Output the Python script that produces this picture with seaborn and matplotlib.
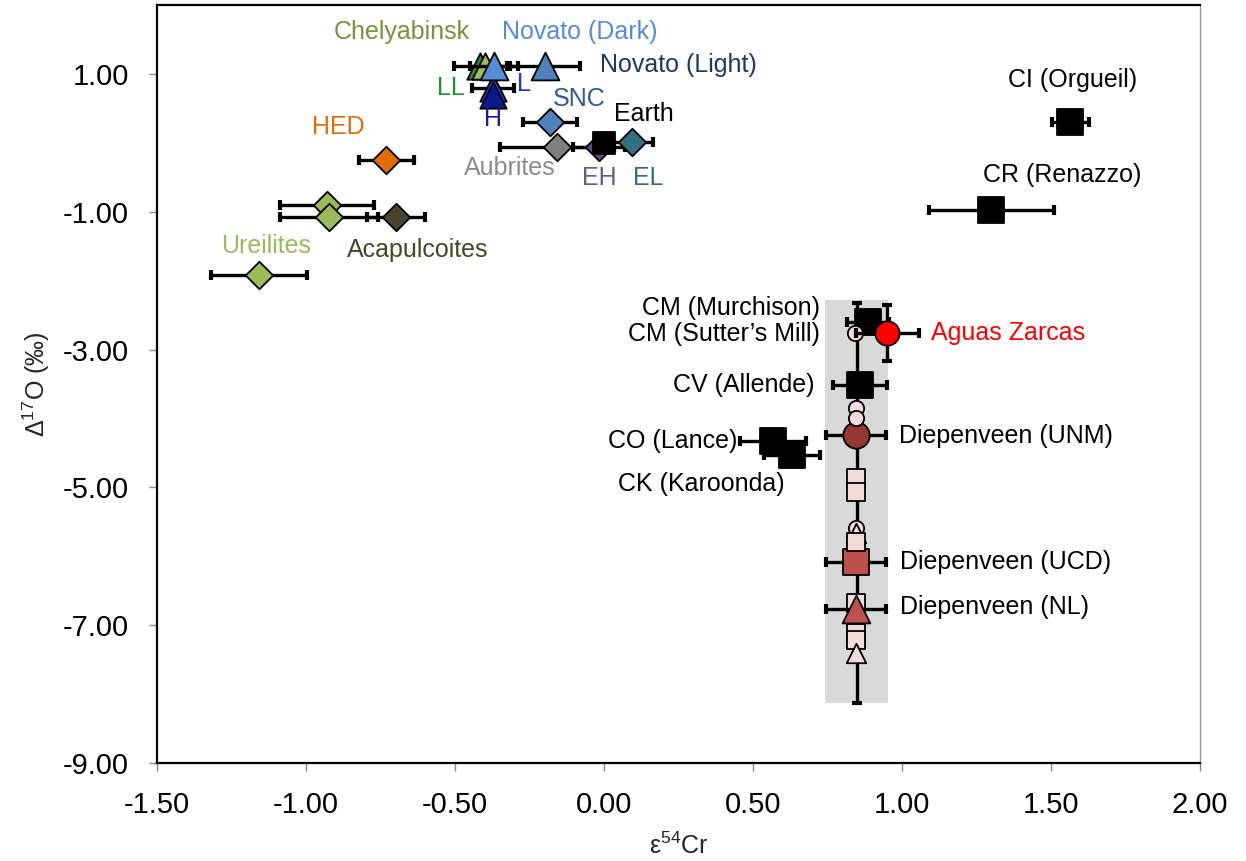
import matplotlib
matplotlib.use("Agg")
import matplotlib.pyplot as plt
import seaborn as sns
import pandas as pd

# ---- meteorite group means: eps54Cr, D17O and their uncertainties ----
sample = ["Ureilites a", "Ureilites b", "Acapulcoites", "Ureilites c", "HED",
          "Aubrites", "EH", "Earth", "EL", "SNC", "L", "H", "LL",
          "Chelyabinsk", "Novato (Dark)", "Novato (Light)",
          "CI (Orgueil)", "CR (Renazzo)", "CO (Lance)", "CK (Karoonda)"]
eps54_cr = [-0.93, -0.923, -0.698, -1.158, -0.73,
            -0.158, -0.017, 0.0, 0.094, -0.181, -0.372, -0.372, -0.415,
            -0.40, -0.37, -0.198,
            1.564, 1.30, 0.567, 0.631]
d17o = [-0.90, -1.075, -1.07, -1.92, -0.25,
        -0.06, -0.06, 0.0, 0.01, 0.30, 0.80, 0.70, 1.12,
        1.12, 1.12, 1.12,
        0.30, -0.97, -4.33, -4.53]
eps54_cr_err = [0.158, 0.165, 0.097, 0.16, 0.093,
                0.19, 0.087, 0.0, 0.07, 0.092, 0.07, 0.0, 0.09,
                0.0, 0.08, 0.117,
                0.062, 0.21, 0.11, 0.094]

# ---- carbonaceous chondrites near the Diepenveen range ----
cc_sample = ["CM (Murchison)", "CV (Allende)", "Diepenveen (UNM)",
             "Diepenveen (UCD)", "Diepenveen (NL)", "Aguas Zarcas"]
cc_eps54_cr = [0.886, 0.859, 0.845, 0.845, 0.845, 0.95]
cc_d17o = [-2.60, -3.51, -4.24, -6.08, -6.77, -2.76]
cc_eps54_cr_err = [0.07, 0.092, 0.10, 0.10, 0.10, 0.106]
cc_d17o_err = [0.0, 0.0, 0.0, 0.0, 0.0, 0.41]

# ---- individual Diepenveen / CM fragments ----
clast_eps54_cr = [0.842, 0.845, 0.845, 0.845, 0.845, 0.845, 0.845, 0.845,
                  0.845, 0.845, 0.845, 0.845]
clast_d17o = [-2.76, -3.85, -4.00, -4.86, -5.07, -5.59, -5.66, -5.79,
              -6.68, -7.11, -7.21, -7.40]
clast_kind = ["o", "o", "o", "s", "s", "o", "^", "s", "s", "s", "s", "^"]

# overall Diepenveen spread (shaded band and bar)
band_eps54_cr = [0.742, 0.953]
band_d17o = [-8.13, -2.28]
range_eps54_cr = 0.85
range_d17o = [-8.13, -2.32]

# ---- marker styles ----
style = {
    "Ureilites a": ("D", "#9bbb59", 14), "Ureilites b": ("D", "#9bbb59", 14),
    "Ureilites c": ("D", "#9bbb59", 14), "Acapulcoites": ("D", "#4a452a", 14),
    "HED": ("D", "#e36c09", 14), "Aubrites": ("D", "#7f7f7f", 14),
    "EH": ("D", "#604a7b", 14), "Earth": ("s", "black", 16),
    "EL": ("D", "#31707f", 14), "SNC": ("D", "#4f81bd", 14),
    "L": ("^", "#1f3fe0", 19), "H": ("^", "#0a1a8c", 19),
    "LL": ("^", "#2e8b2e", 19), "Chelyabinsk": ("^", "#9bbb59", 19),
    "Novato (Dark)": ("^", "#558ed5", 20), "Novato (Light)": ("^", "#4f81bd", 20),
    "CI (Orgueil)": ("s", "black", 19), "CR (Renazzo)": ("s", "black", 19),
    "CO (Lance)": ("s", "black", 19), "CK (Karoonda)": ("s", "black", 19),
    "CM (Murchison)": ("s", "black", 19), "CV (Allende)": ("s", "black", 19),
    "Diepenveen (UNM)": ("o", "#953735", 19), "Diepenveen (UCD)": ("s", "#c0504d", 19),
    "Diepenveen (NL)": ("^", "#c0504d", 20), "Aguas Zarcas": ("o", "#ff0000", 17.5),
}
clast_color = "#f2dcdb"
clast_size = {"o": 11, "s": 13, "^": 14}

# ---- text labels: (text, x, y, colour, ha) ----
labels = [
    ("Chelyabinsk", -0.678, 1.61, "#77933c", "center"),
    ("Novato (Dark)", -0.08, 1.61, "#558ed5", "center"),
    ("Novato (Light)", -0.013, 1.13, "#1f3864", "left"),
    ("LL", -0.513, 0.80, "#22922a", "center"),
    ("L", -0.268, 0.855, "#2233dd", "center"),
    ("H", -0.372, 0.35, "#1c1c9a", "center"),
    ("SNC", -0.084, 0.637, "#2f5a96", "center"),
    ("Earth", 0.134, 0.42, "black", "center"),
    ("Aubrites", -0.315, -0.36, "#8c8c8c", "center"),
    ("EH", -0.017, -0.51, "#6b5a8c", "center"),
    ("EL", 0.148, -0.51, "#33707d", "center"),
    ("HED", -0.893, 0.23, "#e36c09", "center"),
    ("Ureilites", -1.134, -1.50, "#9bbb59", "center"),
    ("Acapulcoites", -0.624, -1.555, "#4a452a", "center"),
    ("CI (Orgueil)", 1.574, 0.91, "black", "center"),
    ("CR (Renazzo)", 1.537, -0.466, "black", "center"),
    ("CM (Murchison)", 0.725, -2.40, "black", "right"),
    ("CM (Sutter\u2019s Mill)", 0.725, -2.77, "black", "right"),
    ("Aguas Zarcas", 1.097, -2.76, "#ff0000", "left"),
    ("CV (Allende)", 0.708, -3.51, "black", "right"),
    ("CO (Lance)", 0.446, -4.33, "black", "right"),
    ("CK (Karoonda)", 0.607, -4.95, "black", "right"),
    ("Diepenveen (UNM)", 0.99, -4.25, "black", "left"),
    ("Diepenveen (UCD)", 0.993, -6.08, "black", "left"),
    ("Diepenveen (NL)", 0.993, -6.74, "black", "left"),
]

sns.set_theme(style="white")
plt.rcParams["font.family"] = ["Liberation Sans", "DejaVu Sans"]
plt.rcParams["mathtext.fontset"] = "custom"
plt.rcParams["mathtext.rm"] = "Liberation Sans"
plt.rcParams["mathtext.default"] = "regular"
plt.rcParams["axes.unicode_minus"] = False

fig = plt.figure(figsize=(12.46, 8.61), dpi=100)
ax = fig.add_axes([157 / 1246, 98 / 861, 1043 / 1246, 758 / 861])

EB = dict(fmt="none", ecolor="black", elinewidth=2.4, capsize=3.6, capthick=3)

# shaded Diepenveen range and its bar
ax.fill_between(band_eps54_cr, band_d17o[0], band_d17o[1], color="#d9d9d9",
                linewidth=0, zorder=0.5)
ax.errorbar([range_eps54_cr], [(range_d17o[0] + range_d17o[1]) / 2],
            yerr=[(range_d17o[1] - range_d17o[0]) / 2], zorder=1, **EB)


def draw_point(x, y, xe, ye, marker, face, size, z):
    if xe or ye:
        ax.errorbar([x], [y], xerr=[xe] if xe else None,
                    yerr=[ye] if ye else None, zorder=z, **EB)
    sns.scatterplot(x=[x], y=[y], marker=marker, s=size ** 2, color=face,
                    edgecolor="black", linewidth=1.3, zorder=z + 0.1,
                    legend=False, ax=ax)


z = 2
df = pd.DataFrame({"sample": sample, "x": eps54_cr, "y": d17o, "xe": eps54_cr_err})
for row in df.itertuples():
    m, c, s = style[row.sample]
    draw_point(row.x, row.y, row.xe, 0, m, c, s, z)
    z += 1

# fragments, then labelled carbonaceous chondrites on top
cc = pd.DataFrame({"sample": cc_sample, "x": cc_eps54_cr, "y": cc_d17o,
                   "xe": cc_eps54_cr_err, "ye": cc_d17o_err})
for i, row in enumerate(cc.itertuples()):
    m, c, s = style[row.sample]
    draw_point(row.x, row.y, row.xe, row.ye, m, c, s, z + (20 if row.sample == "Aguas Zarcas" else 0))
    z += 1
for x, y, k in zip(clast_eps54_cr, clast_d17o, clast_kind):
    draw_point(x, y, 0, 0, k, clast_color, clast_size[k], z - 3)

for text, x, y, col, ha in labels:
    ax.text(x, y, text, color=col, ha=ha, va="center", fontsize=18, zorder=60)

ax.set_xlim(-1.5, 2.0)
ax.set_ylim(-9.0, 2.0)
ax.set_xticks([-1.5, -1.0, -0.5, 0.0, 0.5, 1.0, 1.5, 2.0])
ax.set_yticks([1.0, -1.0, -3.0, -5.0, -7.0, -9.0])
ax.xaxis.set_major_formatter(matplotlib.ticker.FormatStrFormatter("%.2f"))
ax.yaxis.set_major_formatter(matplotlib.ticker.FormatStrFormatter("%.2f"))
ax.tick_params(axis="both", which="major", direction="out", length=6, width=1,
               color="#888888", labelsize=21, pad=14, labelcolor="black",
               bottom=True, left=True)
ax.set_xlabel("\u03b5$^{54}$Cr", fontsize=18, labelpad=10)
ax.set_ylabel("\u0394$^{17}$O (\u2030)", fontsize=18, labelpad=8)

for side in ["left", "bottom", "top"]:
    ax.spines[side].set_color("black")
    ax.spines[side].set_linewidth(1.6)
ax.spines["right"].set_color("#999999")
ax.spines["right"].set_linewidth(1.0)

fig.savefig("out.png", dpi=100)
